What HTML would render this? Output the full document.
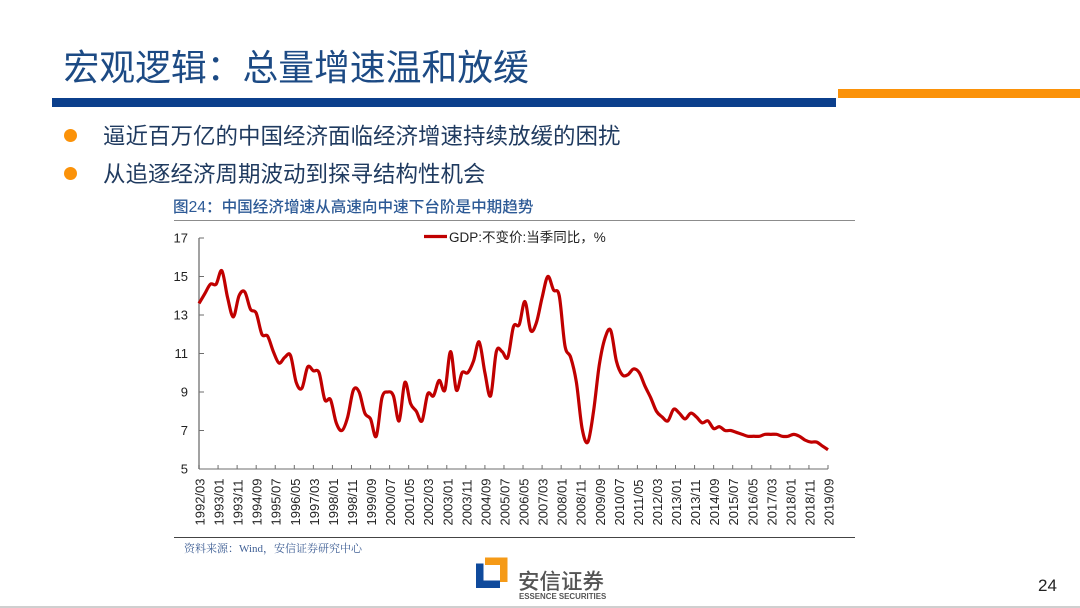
<!DOCTYPE html>
<html lang="zh-CN">
<head>
<meta charset="utf-8">
<title>宏观逻辑：总量增速温和放缓</title>
<style>
html,body{margin:0;padding:0;background:#fff;}
#slide{position:relative;width:1080px;height:608px;overflow:hidden;background:#fff;font-family:"Liberation Sans","Noto Sans CJK SC",sans-serif;}
#slide>div{position:absolute;white-space:nowrap;}
.tc{font-family:"Noto Sans CJK TC",sans-serif;}
</style>
</head>
<body>
<div id="slide">
  <div style="left:63.5px;top:38.5px;font-size:35.8px;line-height:52px;color:#1c4a84;">宏观逻辑<span class="tc">：</span>总量增速温和放缓</div>
  <div style="left:52px;top:98px;width:784px;height:8.5px;background:#0b3f8c;"></div>
  <div style="left:837.5px;top:89px;width:243px;height:9px;background:#fb9209;"></div>

  <div style="left:64px;top:129px;width:13px;height:13px;border-radius:50%;background:#fb9209;"></div>
  <div style="left:103px;top:121px;font-size:22.5px;line-height:32px;color:#1f3a5f;">逼近百万亿的中国经济面临经济增速持续放缓的困扰</div>
  <div style="left:64px;top:167px;width:13px;height:13px;border-radius:50%;background:#fb9209;"></div>
  <div style="left:103px;top:159px;font-size:22.5px;line-height:32px;color:#1f3a5f;">从追逐经济周期波动到探寻结构性机会</div>

  <div style="left:173px;top:196px;font-size:15.6px;line-height:20px;font-weight:500;color:#2d5a96;">图24<span class="tc">：</span>中国经济增速从高速向中速下台阶是中期趋势</div>
  <div style="left:174px;top:219.5px;width:681px;height:1.5px;background:#8c8c8c;"></div>

  <svg id="chart" width="1080" height="608" viewBox="0 0 1080 608" style="position:absolute;left:0;top:0;"></svg>

  <div style="left:174px;top:537px;width:681px;height:1px;background:#444;"></div>
  <div style="left:184px;top:541px;font-family:'Liberation Serif','Noto Serif CJK SC',serif;font-size:11px;line-height:16px;color:#3f5f95;">资料来源：Wind，安信证券研究中心</div>

  <svg width="1080" height="608" viewBox="0 0 1080 608" style="position:absolute;left:0;top:0;">
    <polygon points="485,557.5 507.5,557.5 507.5,582 500,582 500,565 485,565" fill="#f59a17"/>
    <polygon points="476,563.5 483.5,563.5 483.5,580.5 500,580.5 500,588 476,588" fill="#0f4a9c"/>
  </svg>
  <div style="left:518px;top:567px;font-size:21.5px;line-height:30px;font-weight:500;color:#555;">安信证券</div>
  <div style="left:519px;top:591px;font-size:7.9px;line-height:12px;font-weight:bold;color:#555;">ESSENCE SECURITIES</div>
  <div style="left:1038px;top:575px;font-size:17px;line-height:22px;color:#222;">24</div>
  <div style="left:0;top:606px;width:1080px;height:2px;background:#cfcfcf;"></div>
</div>

<script>
const gdpValues = [
13.6,14.1,14.6,14.6,15.3,13.9,12.9,14.0,14.2,13.3,13.1,12.0,11.9,11.1,10.5,10.8,10.9,9.5,9.2,10.3,
10.1,10.0,8.6,8.6,7.4,7.0,7.7,9.1,9.0,7.9,7.6,6.7,8.7,9.0,8.8,7.5,9.5,8.4,8.0,7.5,
8.9,8.8,9.6,9.1,11.1,9.1,10.0,10.0,10.6,11.6,10.0,8.8,11.1,11.1,10.8,12.4,12.5,13.7,12.2,12.6,
13.9,15.0,14.3,14.0,11.4,10.8,9.5,7.1,6.4,8.0,10.4,11.8,12.2,10.6,9.9,9.9,10.2,10.0,9.3,8.7,
8.0,7.7,7.5,8.1,7.9,7.6,7.9,7.7,7.4,7.5,7.1,7.2,7.0,7.0,6.9,6.8,6.7,6.7,6.7,6.8,
6.8,6.8,6.7,6.7,6.8,6.7,6.5,6.4,6.4,6.2,6.0
];
const xTickLabels = ["1992/03","1993/01","1993/11","1994/09","1995/07","1996/05","1997/03","1998/01","1998/11","1999/09","2000/07","2001/05","2002/03","2003/01","2003/11","2004/09","2005/07","2006/05","2007/03","2008/01","2008/11","2009/09","2010/07","2011/05","2012/03","2013/01","2013/11","2014/09","2015/07","2016/05","2017/03","2018/01","2018/11","2019/09"];
const yTickValues = [5,7,9,11,13,15,17];
const legendLabel = "GDP:不变价:当季同比，%";

const svgNS = "http://www.w3.org/2000/svg";
const svg = document.getElementById("chart");
const plot = {left:199, right:828, top:238, bottom:469};
const yMin = yTickValues[0];
const yMax = yTickValues[yTickValues.length-1];

function xScale(i){ return plot.left + i*(plot.right-plot.left)/(gdpValues.length-1); }
function xTickScale(i){ return plot.left + i*(plot.right-plot.left)/(xTickLabels.length-1); }
function yScale(v){ return plot.bottom - (v-yMin)*(plot.bottom-plot.top)/(yMax-yMin); }
function make(tag, attrs){
  const el = document.createElementNS(svgNS, tag);
  for (const k in attrs) el.setAttribute(k, attrs[k]);
  return el;
}

const yAxis = make("line",{x1:plot.left,x2:plot.left,y1:plot.top,y2:plot.bottom,stroke:"#8a8a8a","stroke-width":1.6});


svg.appendChild(yAxis);

const xAxis = make("line",{x1:plot.left,x2:plot.right,y1:plot.bottom,y2:plot.bottom,stroke:"#6e6e6e","stroke-width":1});


svg.appendChild(xAxis);

yTickValues.forEach(function(v){
  const y = yScale(v);
  const t = make("line",{x1:plot.left,x2:plot.left+5,y1:y,y2:y,stroke:"#6e6e6e","stroke-width":1});
  
  
  svg.appendChild(t);
  const lab = make("text",{x:188,y:y+4.5,"text-anchor":"end","font-size":13,fill:"#222","font-family":"Liberation Sans, sans-serif"});
  
  
  lab.textContent = v;
  svg.appendChild(lab);
});

xTickLabels.forEach(function(s,i){
  const x = xTickScale(i);
  const t = make("line",{x1:x,x2:x,y1:plot.bottom-4,y2:plot.bottom,stroke:"#6e6e6e","stroke-width":1});
  
  
  svg.appendChild(t);
  const lab = make("text",{transform:"translate("+(x+5.5)+",525.5) rotate(-90)","font-size":13,fill:"#222","font-family":"Liberation Sans, sans-serif"});
  
  
  lab.textContent = s;
  svg.appendChild(lab);
});

let d = "M"+xScale(0).toFixed(2)+" "+yScale(gdpValues[0]).toFixed(2);
for (let i=0;i<gdpValues.length-1;i++){
  const p0=[xScale(Math.max(i-1,0)),yScale(gdpValues[Math.max(i-1,0)])];
  const p1=[xScale(i),yScale(gdpValues[i])];
  const p2=[xScale(i+1),yScale(gdpValues[i+1])];
  const p3=[xScale(Math.min(i+2,gdpValues.length-1)),yScale(gdpValues[Math.min(i+2,gdpValues.length-1)])];
  const c1=[p1[0]+(p2[0]-p0[0])/6,p1[1]+(p2[1]-p0[1])/6];
  const c2=[p2[0]-(p3[0]-p1[0])/6,p2[1]-(p3[1]-p1[1])/6];
  d+="C"+c1[0].toFixed(2)+" "+c1[1].toFixed(2)+" "+c2[0].toFixed(2)+" "+c2[1].toFixed(2)+" "+p2[0].toFixed(2)+" "+p2[1].toFixed(2);
}
const line = make("path",{d:d,fill:"none",stroke:"#c00000","stroke-width":3.2,"stroke-linejoin":"round"});


svg.appendChild(line);

const legendLine = make("line",{x1:424,x2:447,y1:236.5,y2:236.5,stroke:"#c00000","stroke-width":3.2});


svg.appendChild(legendLine);

const legendText = make("text",{x:449,y:242,"font-size":13.5,fill:"#222","font-family":"Liberation Sans, Noto Sans CJK SC, sans-serif"});


legendText.textContent = legendLabel;
svg.appendChild(legendText);
</script>
</body>
</html>
